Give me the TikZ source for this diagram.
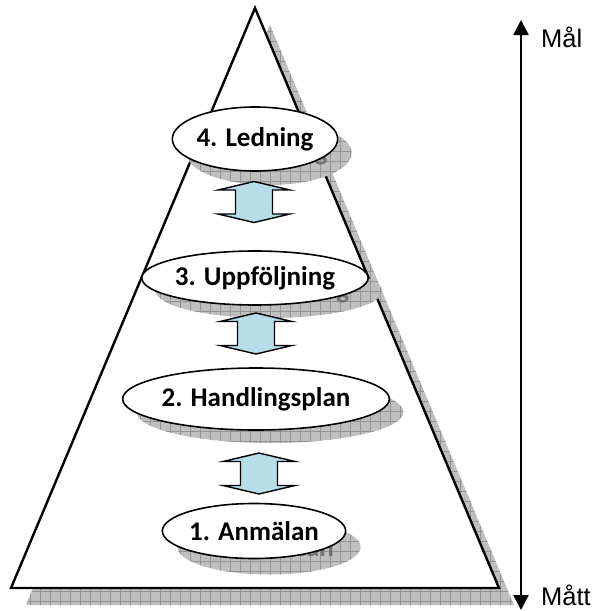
\documentclass[tikz,border=0pt]{standalone}
\usepackage{fontspec}
\setmainfont{Carlito}
\newfontfamily\arialfont{Liberation Sans}
\usetikzlibrary{positioning,shapes,arrows.meta,patterns.meta,calc}
\definecolor{arrowfill}{HTML}{B7DEE8}
\tikzstyle{shade0} = [fill=black!25, %
   postaction={pattern={Hatch[angle=0,distance=10pt,line width=0.6pt]}, pattern color=black!42}]
\tikzstyle{level} = [ellipse, draw, line width=1.6pt, fill=white, inner sep=0pt, %
   text centered, font=\fontsize{27}{30}\selectfont\bfseries]
\tikzstyle{levelshadow} = [ellipse, shade0, inner sep=0pt, text=black!55, %
   text centered, font=\fontsize{27}{30}\selectfont\bfseries]
\tikzstyle{pyramid} = [draw, line width=2.4pt, fill=white, line join=miter]
\tikzstyle{blockarrow} = [draw, line width=1.4pt, fill=arrowfill, line join=miter]
\tikzstyle{line} = [draw, line width=2.6pt, {Triangle[width=15pt,length=15pt]}-{Triangle[width=15pt,length=15pt]}]
\tikzstyle{scalelabel} = [anchor=base west, inner sep=0pt, font=\arialfont\fontsize{25.5}{28}\selectfont]

\begin{document}
\begin{tikzpicture}[x=1pt, y=-1pt]
   \useasboundingbox (0,0) rectangle (595,611);

   % Pyramid %%%%%%%%%%%%%%%%%%%%%%%%%%%%%%%%%%%%%%%%%%%%%%%%%%%%%%%%%%
      \coordinate (Apex) at (255,8);
      \coordinate (BaseL) at (11,588);
      \coordinate (BaseR) at (499,588);
      \path [shade0] ($(Apex)+(15,17)$) -- ($(BaseR)+(15,17)$) -- ($(BaseL)+(15,17)$) -- cycle;
      \path [pyramid] (Apex) -- (BaseR) -- (BaseL) -- cycle;

   % Shadows %%%%%%%%%%%%%%%%%%%%%%%%%%%%%%%%%%%%%%%%%%%%%%%%%%%%%%%%%%
      \node[levelshadow, minimum width=134pt, minimum height=64pt] (LedningS) at (269,153){4. Ledning};
      \node[levelshadow, minimum width=184pt, minimum height=54pt] (UppfoljningS) at (269,291){3. Uppföljning};
      \node[levelshadow, minimum width=230pt, minimum height=62pt] (HandlingsplanS) at (270,412){2. Handlingsplan};
      \node[levelshadow, minimum width=167pt, minimum height=55pt] (AnmalanS) at (269,547){1. Anmälan};

   % Levels %%%%%%%%%%%%%%%%%%%%%%%%%%%%%%%%%%%%%%%%%%%%%%%%%%%%%%%%%%%
      \node[level, minimum width=134pt, minimum height=64pt] (Ledning) at (255,139){4. Ledning};
      \node[level, minimum width=184pt, minimum height=54pt] (Uppfoljning) at (255,278){3. Uppföljning};
      \node[level, minimum width=230pt, minimum height=62pt] (Handlingsplan) at (256,399){2. Handlingsplan};
      \node[level, minimum width=167pt, minimum height=55pt] (Anmalan) at (254,531){1. Anmälan};

   % Arrows between levels
      \coordinate (Arrow1) at (254,202);
      \coordinate (Arrow2) at (256,333.5);
      \coordinate (Arrow3) at (259,473.5);
      \foreach \a in {Arrow1,Arrow2,Arrow3}
         \path [blockarrow, shift={(\a)}] (0,-20.5) -- (36,-12) -- (18.5,-12) -- (18.5,12) -- (36,12)
            -- (0,20.5) -- (-36,12) -- (-18.5,12) -- (-18.5,-12) -- (-36,-12) -- cycle;

   % Scale %%%%%%%%%%%%%%%%%%%%%%%%%%%%%%%%%%%%%%%%%%%%%%%%%%%%%%%%%%%%
      \coordinate (MalTip) at (521,20);
      \coordinate (MattTip) at (521,610);
      \path [line] (MattTip) -- (MalTip);
      \node[scalelabel] (Mal) at (541,47){Mål};
      \node[scalelabel] (Matt) at (541,605){Mått};
\end{tikzpicture}
\end{document}
